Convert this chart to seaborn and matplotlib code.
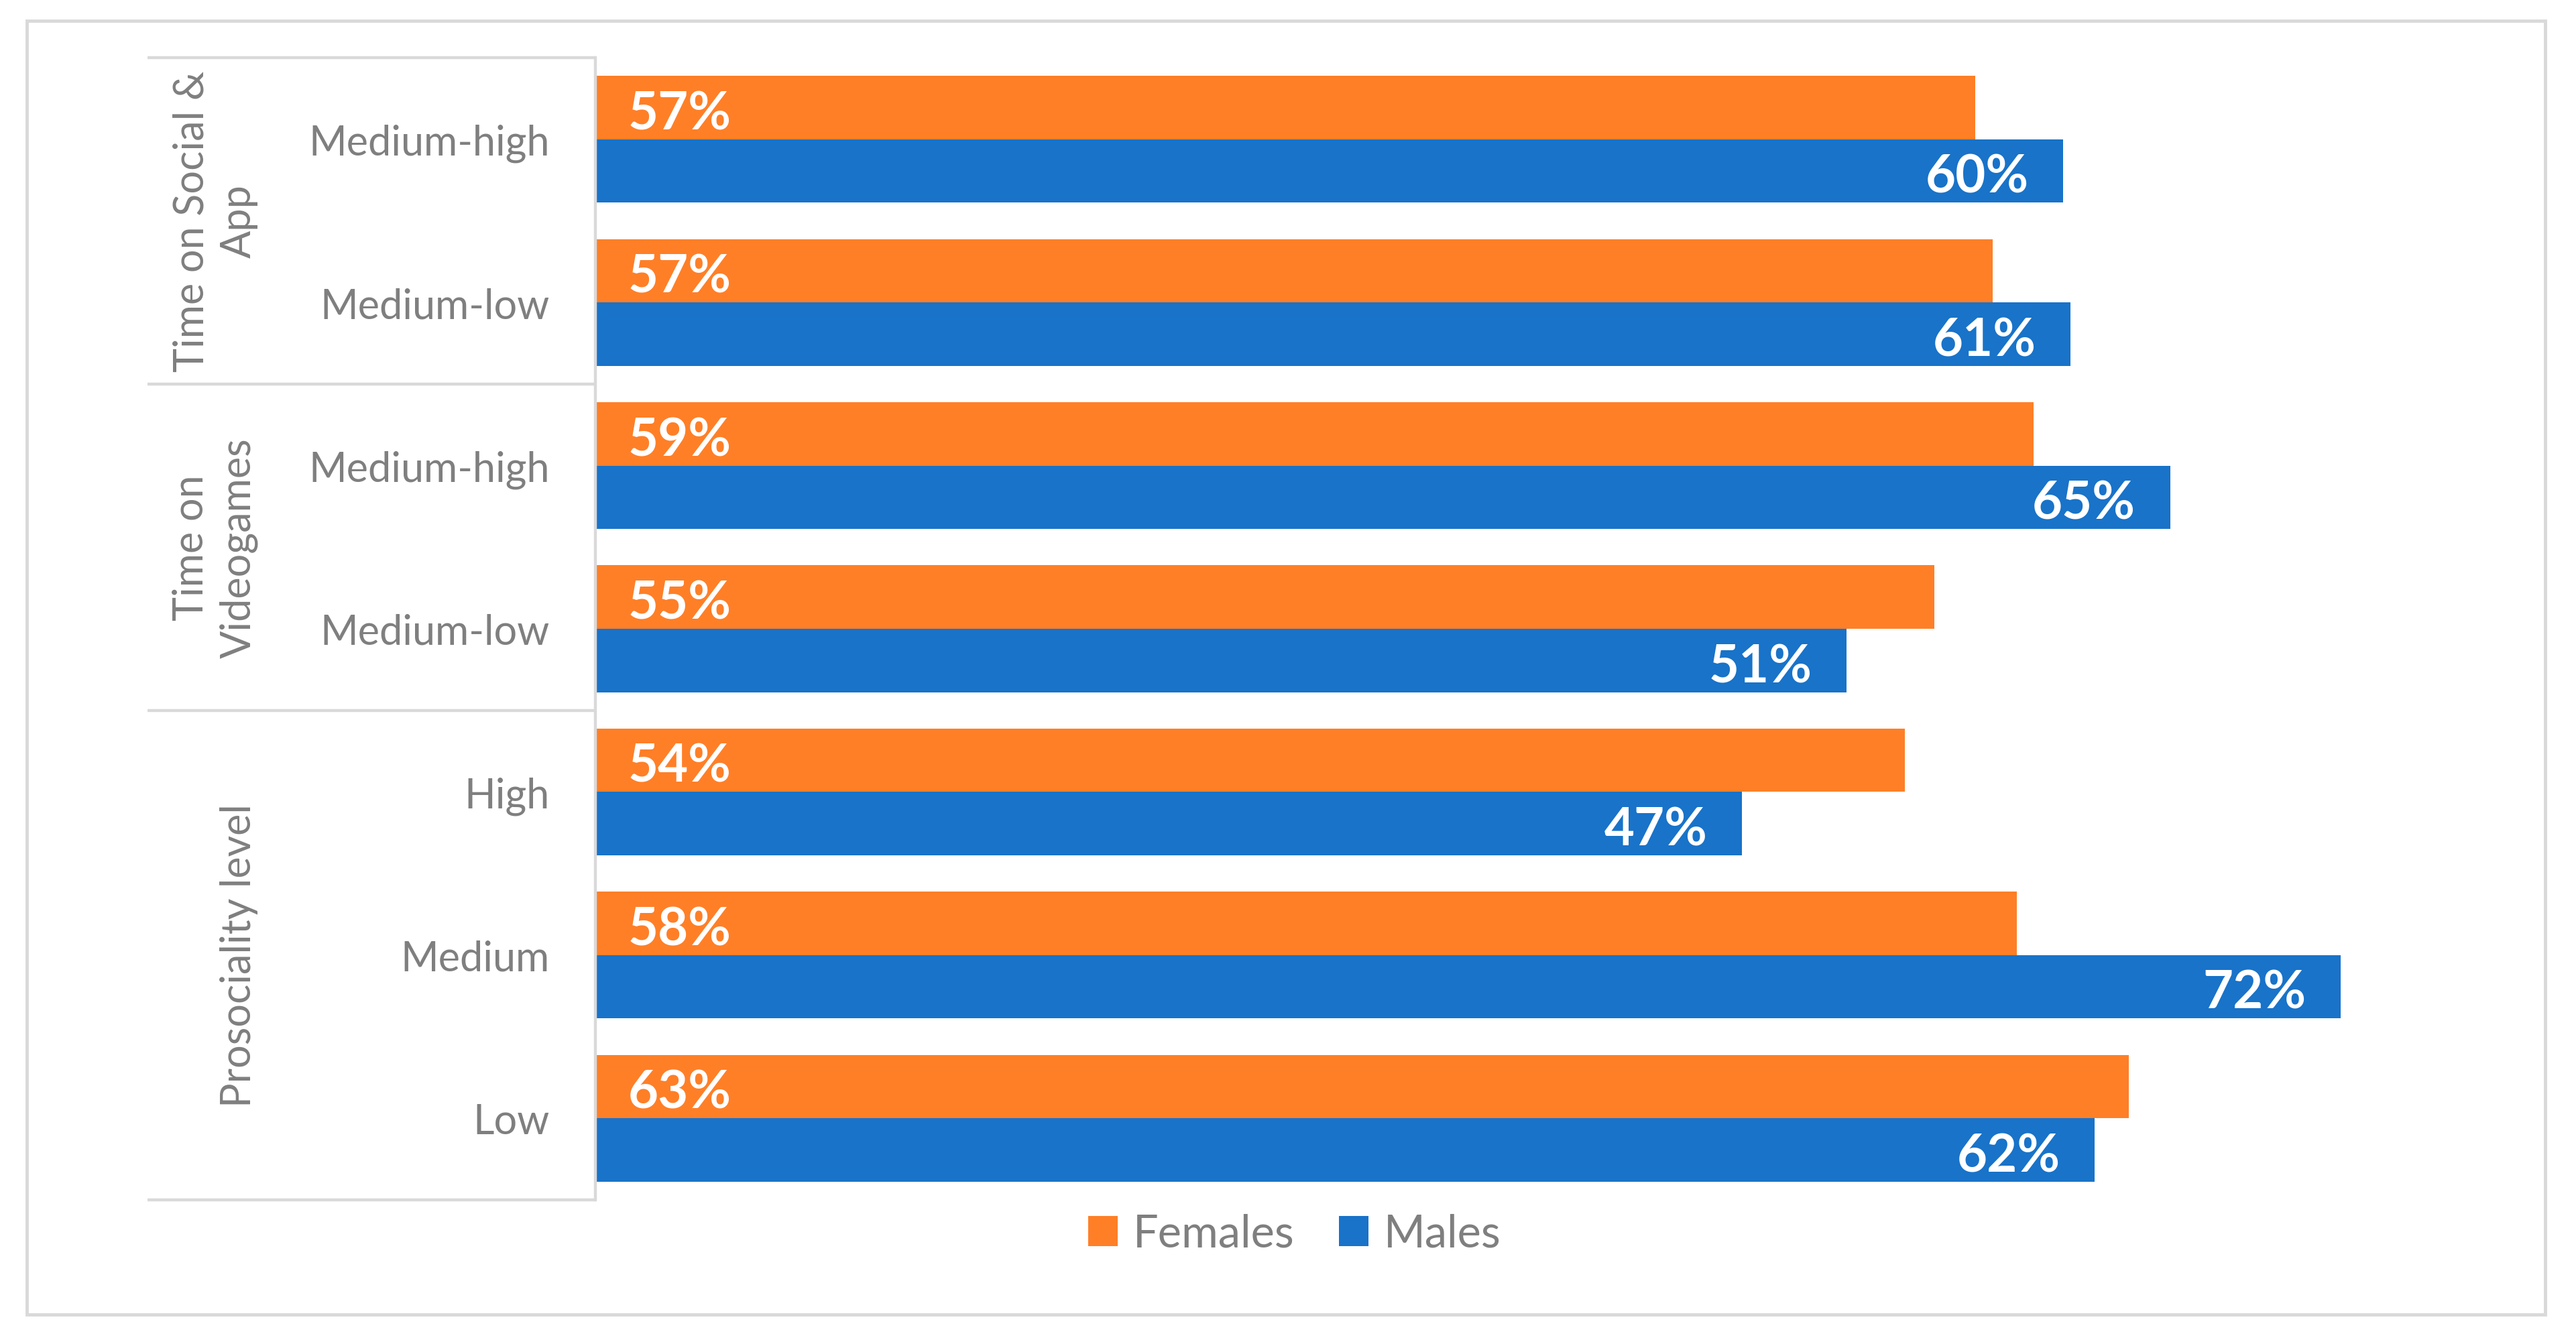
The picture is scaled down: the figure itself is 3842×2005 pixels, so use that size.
import matplotlib
matplotlib.use("Agg")
import matplotlib.pyplot as plt
import matplotlib.transforms as mtransforms
from matplotlib.patches import Rectangle, Patch
import seaborn as sns
import pandas as pd

# ---------------- data ----------------
groups = ["Time on Social &\nApp", "Time on\nVideogames", "Prosociality level"]
group_sizes = [2, 2, 3]
categories = ["Medium-high", "Medium-low", "Medium-high", "Medium-low", "High", "Medium", "Low"]
females = [56.7, 57.4, 59.1, 55.0, 53.8, 58.4, 63.0]
males = [60.3, 60.6, 64.7, 51.4, 47.1, 71.7, 61.6]
series = ["Females", "Males"]
colors = ["#FF7F27", "#1873C9"]

plt.rcParams['font.family'] = ['Lato', 'DejaVu Sans']

keys = [str(i) for i in range(len(categories))]
df = pd.DataFrame({
    "key": keys * 2,
    "value": females + males,
    "series": [series[0]] * len(keys) + [series[1]] * len(keys),
})

W, H = 3842, 2006
fig = plt.figure(figsize=(W / 100, H / 100), dpi=100)


def fx(px):
    return px / W


def fy(py):
    return 1 - py / H


GRAY_TXT = "#7F7F7F"
GRAY_LN = "#D9D9D9"

ax = fig.add_axes([fx(888), fy(1791), fx(3792) - fx(888), fy(87) - fy(1791)])
sns.barplot(data=df, y="key", x="value", hue="series", order=keys, hue_order=series,
            palette=colors, width=0.777, orient="h", ax=ax, legend=False,
            saturation=1, linewidth=0)

ax.set_xlim(0, 80)
ax.set_ylim(len(keys) - 0.5, -0.5)
ax.set_xlabel("")
ax.set_ylabel("")
ax.set_xticks([])
ax.set_yticks(range(len(keys)))
ax.set_yticklabels(categories, fontsize=44, color=GRAY_TXT)
ax.tick_params(axis='y', length=0, pad=49)
for s in ['top', 'right', 'bottom']:
    ax.spines[s].set_visible(False)
ax.spines['left'].set_color(GRAY_LN)
ax.spines['left'].set_linewidth(3.2)

# data labels
for cont, name in zip(ax.containers, series):
    for bar in cont:
        w = bar.get_width()
        yc = bar.get_y() + bar.get_height() / 2
        if name == series[0]:
            ax.annotate(f"{w:.0f}%", xy=(0, yc), xytext=(35, -7), textcoords='offset points',
                        ha='left', va='center', color='white', fontsize=56, fontweight='bold')
        else:
            ax.annotate(f"{w:.0f}%", xy=(w, yc), xytext=(-37, -7), textcoords='offset points',
                        ha='right', va='center', color='white', fontsize=56, fontweight='bold')

# group table lines and labels
trans = mtransforms.blended_transform_factory(fig.transFigure, ax.transData)
bounds = [-0.5]
for g in group_sizes:
    bounds.append(bounds[-1] + g)
for b in bounds:
    ax.plot([fx(220), fx(888)], [b, b], transform=trans, color=GRAY_LN, lw=3.2,
            clip_on=False, solid_capstyle='butt')
for i, g in enumerate(groups):
    c = (bounds[i] + bounds[i + 1]) / 2
    ax.text(fx(385), c, g, transform=trans, rotation=90, ha='right', va='center',
            multialignment='center', linespacing=1.3, fontsize=44, color=GRAY_TXT)

# legend
handles = [Patch(facecolor=c, edgecolor='none', label=s) for s, c in zip(series, colors)]
fig.legend(handles=handles, loc='center', bbox_to_anchor=(fx(1931), fy(1842)), ncol=2,
           frameon=False, fontsize=48, handlelength=0.66, handleheight=0.66,
           handletextpad=0.34, columnspacing=1.0, labelcolor=GRAY_TXT)

# outer border
fig.add_artist(Rectangle((fx(40), fy(1962)), fx(3796) - fx(40), fy(32) - fy(1962),
                         transform=fig.transFigure, fill=False, edgecolor=GRAY_LN, lw=3.5))

fig.savefig("out.png", dpi=100)
